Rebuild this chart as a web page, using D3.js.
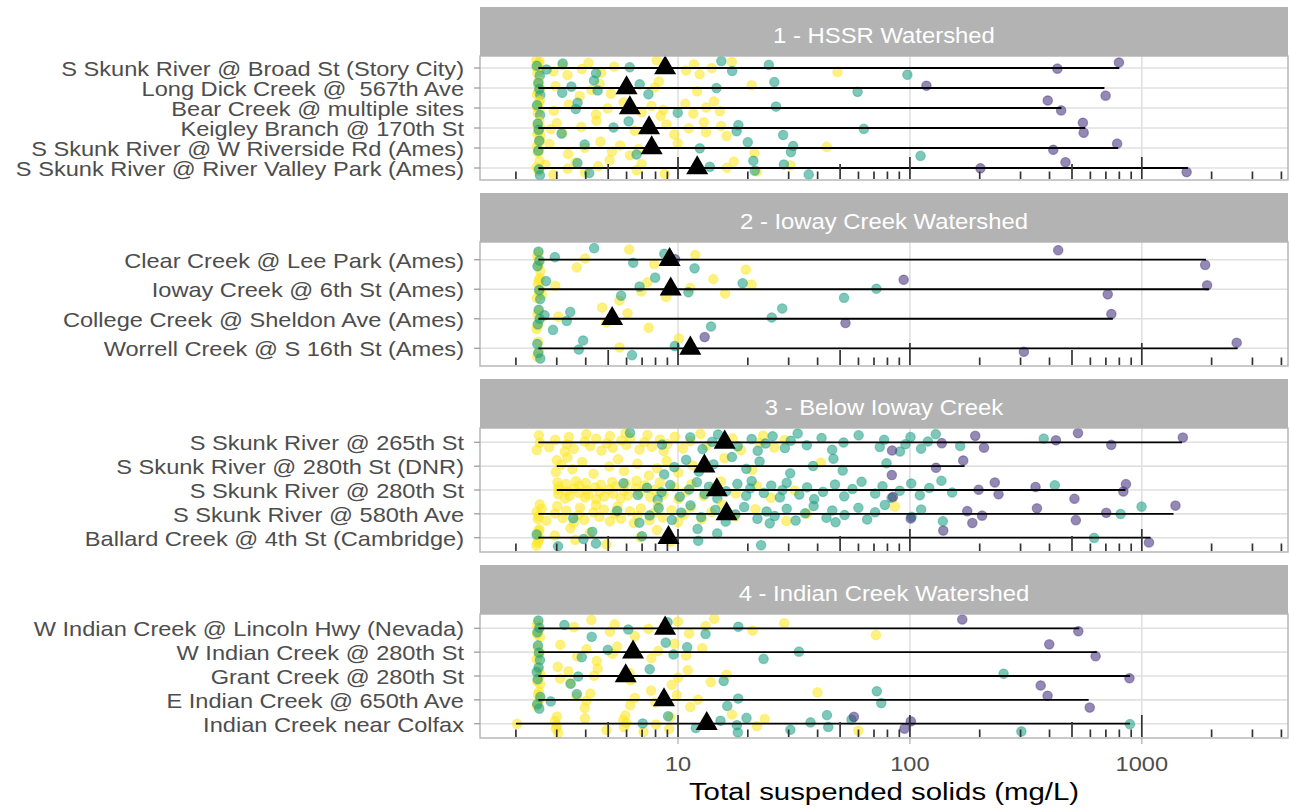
<!DOCTYPE html>
<html><head><meta charset="utf-8">
<script src="https://cdn.jsdelivr.net/npm/d3@7"></script>
<style>
body{margin:0;background:#fff}
text{font-family:"Liberation Sans",Arial,Helvetica,sans-serif}
</style>
</head><body>
<svg id="chart" width="1289" height="811"></svg>
<script>
// ---------------- DATA ----------------
const facets = ["1 - HSSR Watershed","2 - Ioway Creek Watershed","3 - Below Ioway Creek","4 - Indian Creek Watershed"];
const sites = [
 "S Skunk River @ Broad St (Story City)","Long Dick Creek @  567th Ave","Bear Creek @ multiple sites","Keigley Branch @ 170th St","S Skunk River @ W Riverside Rd (Ames)","S Skunk River @ River Valley Park (Ames)",
 "Clear Creek @ Lee Park (Ames)","Ioway Creek @ 6th St (Ames)","College Creek @ Sheldon Ave (Ames)","Worrell Creek @ S 16th St (Ames)",
 "S Skunk River @ 265th St","S Skunk River @ 280th St (DNR)","S Skunk River @ 280th St","S Skunk River @ 580th Ave","Ballard Creek @ 4th St (Cambridge)",
 "W Indian Creek @ Lincoln Hwy (Nevada)","W Indian Creek @ 280th St","Grant Creek @ 280th St","E Indian Creek @ 650th Ave","Indian Creek near Colfax"];
const siteFacet = [0,0,0,0,0,0,1,1,1,1,2,2,2,2,2,3,3,3,3,3];
const siteCentre = [8.8,6.0,6.2,7.5,7.7,12.1, 9.2,9.3,5.2,11.3, 15.9,13.0,14.7,16.2,9.1, 8.8,6.4,5.95,8.7,13.3];
const groups = ["low","medium","high"];
const yellowValues = [
 [2.5,2.5,2.5,2.5,2.5,2.5,2.9,3.2,3.4,3.8,4.1,4.7,5.4,8.0,10.8,11.8,12.6,13.8,17,49],
 [2.5,2.5,2.5,2.5,2.5,3.0,3.7,4.2,4.6,5.2,7.8,8.2,12.1,21],
 [2.5,2.5,2.5,2.5,2.5,2.9,3.4,4.5,4.9,5.8,7.0,7.8,8.3,8.6,10.8,11.8,13.0,14.2,15.2],
 [2.5,2.5,2.5,2.5,2.5,2.6,2.8,3.0,3.2,3.9,4.4,6.5,9.0,9.8,11,12.9,13.3,15.6,16],
 [2.5,2.5,2.5,2.5,2.5,2.8,3.4,3.9,4.6,5.2,5.7,6.1,6.7,10,21.6,43],
 [2.5,2.5,2.5,2.7,2.95,3.3,3.6,4.0,4.6,5.0,6.6,7.0,8.9,16,17.3,22,31],
 [2.5,2.5,2.5,2.5,2.5,3.7,3.9,6.1,7.9,12.0,20],
 [2.5,2.5,2.5,2.5,2.5,2.5,2.6,3.0,5.5,6.9,7.4,9.0,11.1,14.1,16,21],
 [2.5,2.5,2.5,2.5,2.5,3.1,4.65,4.9,6.1,7.6],
 [2.5,2.5,2.5,5.5,10],
 [2.5,2.5,2.5,2.8,3.0,3.2,3.3,3.4,3.6,3.9,4.0,4.2,4.5,4.6,4.9,5.1,5.3,5.6,5.9,6.0,6.3,6.7,7.1,7.4,7.8,8.2,8.6,9.0,9.8,10.3,11.2,12.5,13.4,17.5,18.5,22.5,23.5,26.5,28.5],
 [3.0,3.0,3.2,3.3,3.5,3.9,4.4,5.0,5.5,5.9,6.8,7.4,8.1,9.0,10.2,11.4,15.8,21,42],
 [3.0,3.0,3.05,3.1,3.2,3.3,3.3,3.45,3.5,3.6,3.75,3.8,3.9,4.0,4.0,4.15,4.3,4.4,4.6,4.7,4.9,5.0,5.2,5.3,5.5,5.6,5.85,6.0,6.2,6.5,6.6,6.9,7.3,7.5,7.9,8.4,8.8,9.5,10.0,10.9,11.6,12.7,14.1,15.4,18,21.5,25,32],
 [2.5,2.5,2.5,2.5,2.6,2.75,2.9,3.0,3.2,3.35,3.5,3.7,3.8,4.0,4.25,4.4,4.6,4.85,5.0,5.3,5.5,5.75,6.1,6.4,6.7,7.0,7.4,7.8,8.2,8.7,9.2,9.9,10.6,11.5,12.4,13.8,15.5,17.8,22,29,36,87],
 [2.5,2.5,2.5,2.5,2.5,2.5,2.5,3.0,3.4,3.6,4.2,5.0,6.8,8.1,9.4],
 [2.5,2.5,2.5,2.5,2.5,3.5,4.2,5.1,5.4,6.4,7.4,10,11.3,12.9,14.2,21,29,70],
 [2.5,2.5,2.5,2.5,3.1,3.7,4.1,4.4,5.2,5.5,7.8,8.1,9.6,10.9,12.9],
 [2.5,2.5,2.5,2.5,2.5,3.0,3.1,3.4,3.5,4.3,4.5,6.3,6.3,9.3,10,11.1,14.1,16],
 [2.5,2.5,2.5,2.5,2.5,3.7,3.9,4.0,4.2,6.3,6.4,7.6,8.0,10,11.1,12.1,40],
 [2.0,3.0,3.0,3.0,3.0,3.0,4.0,5.0,5.9,5.9,5.9,5.9,7.0,8.0,9.3,9.3,13.0,17,22,24,59]
];
const greenValues = [
 [2.5,2.5,2.7,3.2,4.5,6.1,15.3,17.2,25,96],
 [2.5,2.5,2.5,3.2,3.4,4.3,4.5,6.9,7.6,14.5,26,60],
 [2.5,2.5,3.6,3.7,10.1,26],
 [2.5,2.5,3.2,5.2,6.1,18,18.5,28,63],
 [2.5,2.5,4.0,6.5,12.3,20,31,32,110],
 [2.5,2.5,3.7,4.2,13.5,21,21.5,29,36],
 [2.5,2.5,2.5,3.0,4.3,6.4,8.8,12.0],
 [2.5,2.5,2.7,5.75,6.7,7.9,11.1,19.2,51,71],
 [2.5,2.5,2.5,2.7,2.85,3.3,3.45,14.1,25,28],
 [2.5,2.5,2.5,3.7,3.9,6.4,9.5],
 [6.2,8.6,11.5,12.6,14,15,18.4,20.5,22,24,26,28.5,30.5,33,36.5,41,46,52,61,73,77,91,97,99,111,120,131,162,375],
 [8.6,9.6,10.9,12.5,14,17,19.8,22.8,30,38,47,52,78],
 [5.9,6.6,7.3,8.2,8.6,9.1,10.1,11.2,12.2,12.8,13.5,14.8,16.3,17.7,19.5,20.5,21,23,25,27.5,28.5,30,33,36,39,43,47,52,57,63,70,76,84,92,100,110,122,139,150,420],
 [3.6,5.4,6.8,7.6,8.4,9.3,10.3,11.4,12.8,14.3,16,17.8,19.6,21.7,24,25,26.5,29,32,35.5,39,43,46,48,53,59,65,71,79,100,111,139,820,980],
 [2.5,3.0,3.9,4.3,4.5,6.9,12.1,12.3,15,22.5,620],
 [2.5,2.5,2.5,3.3,4.2,6.1,9.1,13.4,18],
 [2.5,2.5,2.5,3.9,4.9,8.8,9.6,11.1,23,33],
 [2.5,2.5,2.5,3.4,3.7,7.6,16,250],
 [2.5,2.5,2.5,2.83,3.7,16,18,72,76],
 [7.0,9.1,12.1,15,18,18,20,30,37,44,45,55,300,890]
];
const purpleValues = [
 [430,800],[120,690],[390,450],[560,570],[415,790],[200,470,1580],
 [9.6,435,1890],[94,720,1950],[53,750],[12.9,310,2590],
 [84,139,188,207,427,537,725,1490],[83,130,172],[85,201,229,240,350,520,820,850],[100,177,188,201,350,520,710,1370],[140,1090],
 [168,537],[400,640],[365,890],[400,590],[58,93,100]
];
const xTicks = [10,100,1000];
const xLimits = [1.4,4270];
const xTitle = "Total suspended solids (mg/L)";

// ---------------- STYLE / LAYOUT ----------------
const groupColor = {low:"#FDE725", medium:"#1FA187", high:"#46337E"};
const L = 480, R = 1288, top0 = 7, stripH = 49, panelH = 124, period = 186;

const svg = d3.select("#chart");
const x = d3.scaleLog().domain(xLimits).range([L,R]);
const frac = v => v - Math.floor(v);

facets.forEach((fname, fi) => {
  const sTop = top0 + fi*period, pTop = sTop + stripH, pBot = pTop + panelH;
  const idx = d3.range(sites.length).filter(i => siteFacet[i] === fi);
  const y = d3.scalePoint().domain(idx.map(i => sites[i])).range([pTop,pBot]).padding(0.6);
  const step = y.step();

  // strip
  svg.append("rect").attr("x",L).attr("y",sTop).attr("width",R-L).attr("height",stripH).attr("fill","#b3b3b3");
  svg.append("g").attr("transform",`translate(${(L+R)/2},${sTop+36}) scale(1.07,1)`)
    .append("text").attr("text-anchor","middle").attr("font-size",22.3).attr("fill","#ffffff").text(fname);

  // panel background + grid
  svg.append("rect").attr("x",L).attr("y",pTop).attr("width",R-L).attr("height",panelH).attr("fill","#fff");
  const clipId = "clip"+fi;
  svg.append("clipPath").attr("id",clipId).append("rect").attr("x",L).attr("y",pTop).attr("width",R-L).attr("height",panelH);
  const g = svg.append("g").attr("clip-path",`url(#${clipId})`);
  g.selectAll(".vg").data(xTicks).join("line")
    .attr("x1",d=>x(d)).attr("x2",d=>x(d)).attr("y1",pTop).attr("y2",pBot)
    .attr("stroke","#e0e0e0").attr("stroke-width",1.6);
  g.selectAll(".hg").data(idx).join("line")
    .attr("x1",L).attr("x2",R).attr("y1",i=>y(sites[i])).attr("y2",i=>y(sites[i]))
    .attr("stroke","#e0e0e0").attr("stroke-width",1.6);

  // points
  idx.forEach((si) => {
    const pts = [
      ...yellowValues[si].map(v=>({v, grp:"low"})),
      ...greenValues[si].map(v=>({v, grp:"medium"})),
      ...purpleValues[si].map(v=>({v, grp:"high"}))
    ];
    pts.forEach((p,k) => {
      p.dy = (frac(k*0.618034 + si*0.29) - 0.5) * 0.8 * step;
      p.dx = (frac(k*0.754878 + si*0.41) - 0.5) * 4;
    });
    g.selectAll(null).data(pts).join("circle")
      .attr("cx",p=>x(p.v)+p.dx).attr("cy",p=>y(sites[si])+p.dy).attr("r",4.7)
      .attr("fill",p=>groupColor[p.grp]).attr("fill-opacity",0.58)
      .attr("stroke",p=>groupColor[p.grp]).attr("stroke-opacity",0.45).attr("stroke-width",1.2);
  });

  // range lines
  g.selectAll(".rl").data(idx).join("line")
    .attr("x1",i=>x(d3.min([...yellowValues[i],...greenValues[i],...purpleValues[i]])))
    .attr("x2",i=>x(d3.max([...yellowValues[i],...greenValues[i],...purpleValues[i]])))
    .attr("y1",i=>y(sites[i])).attr("y2",i=>y(sites[i]))
    .attr("stroke","#000").attr("stroke-width",1.8);

  // log ticks
  const lt = [];
  for (let k=0;k<=3;k++) for (let m=1;m<=9;m++) {
    const v = m*Math.pow(10,k);
    if (v>=xLimits[0] && v<=xLimits[1]) lt.push({v, len: m===1?22:(m===5?15:7.5)});
  }
  svg.selectAll(null).data(lt).join("line")
    .attr("x1",d=>x(d.v)).attr("x2",d=>x(d.v)).attr("y1",pBot-1).attr("y2",d=>pBot-1-d.len)
    .attr("stroke","#333").attr("stroke-width",1.7);

  // triangles
  svg.selectAll(null).data(idx).join("path")
    .attr("d",d3.symbol(d3.symbolTriangle,210))
    .attr("transform",i=>`translate(${x(siteCentre[i])},${y(sites[i])})`)
    .attr("fill","#000");

  // panel border
  svg.append("rect").attr("x",L).attr("y",pTop).attr("width",R-L).attr("height",panelH)
    .attr("fill","none").attr("stroke","#b3b3b3").attr("stroke-width",1.4);

  // y axis ticks + labels
  svg.selectAll(null).data(idx).join("line")
    .attr("x1",L-6).attr("x2",L).attr("y1",i=>y(sites[i])).attr("y2",i=>y(sites[i]))
    .attr("stroke","#9e9e9e").attr("stroke-width",1.3);
  svg.selectAll(null).data(idx).join("g")
    .attr("transform",i=>`translate(${L-16},${y(sites[i])+8}) scale(1.18,1)`)
    .append("text").attr("text-anchor","end").attr("font-size",20).attr("fill","#4d4d4d")
    .style("white-space","pre").text(i=>sites[i]);

  if (fi === facets.length-1) {
    svg.selectAll(null).data(xTicks).join("line")
      .attr("x1",d=>x(d)).attr("x2",d=>x(d)).attr("y1",pBot).attr("y2",pBot+6)
      .attr("stroke","#b3b3b3").attr("stroke-width",1.3);
    svg.selectAll(null).data(xTicks).join("g")
      .attr("transform",d=>`translate(${x(d)},${pBot+33}) scale(1.15,1)`)
      .append("text").attr("text-anchor","middle").attr("font-size",20.5).attr("fill","#4d4d4d").text(d=>d);
    svg.append("g").attr("transform",`translate(${(L+R)/2},${pBot+62}) scale(1.25,1)`)
      .append("text").attr("text-anchor","middle").attr("font-size",23.5).attr("fill","#000").text(xTitle);
  }
});
</script>
</body></html>
